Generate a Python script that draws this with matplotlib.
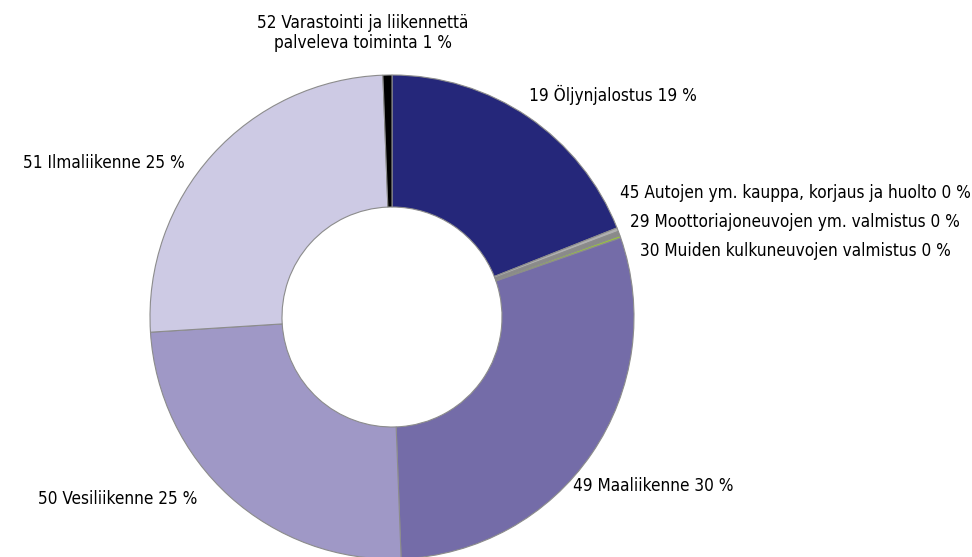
import matplotlib.pyplot as plt

labels = ["19 Öljynjalostus 19 %",
          "45 Autojen ym. kauppa, korjaus ja huolto 0 %",
          "29 Moottoriajoneuvojen ym. valmistus 0 %",
          "30 Muiden kulkuneuvojen valmistus 0 %",
          "49 Maaliikenne 30 %",
          "50 Vesiliikenne 25 %",
          "51 Ilmaliikenne 25 %",
          "52 Varastointi ja liikennettä\npalveleva toiminta 1 %"]
shares = [19.0, 0.25, 0.3, 0.15, 29.7, 24.6, 25.4, 0.6]
colors = ["#25277a", "#b0b0b0", "#8a8a8a", "#9acd32",
          "#746ca8", "#9f98c6", "#cdcae4", "#000000"]

# label anchor points in pixel space (x, y from top)
label_pos = [(613, 95), (795, 193), (795, 222), (795, 251),
             (653, 486), (118, 499), (104, 163), (363, 33)]

W, H = 972, 557
fig = plt.figure(figsize=(W / 100, H / 100), dpi=100)
ax = fig.add_axes([0, 0, 1, 1])

cx, cy, r = 392, 317, 242
ax.pie(shares, colors=colors, startangle=90, counterclock=False,
       center=(cx, H - cy), radius=r,
       wedgeprops=dict(width=132, edgecolor="#8c8c8c", linewidth=0.8))
ax.set_xlim(0, W)
ax.set_ylim(0, H)
ax.axis("off")

for lab, (x, y) in zip(labels, label_pos):
    ax.text(x, H - y, lab, ha="center", va="center", fontsize=12.3,
            family="DejaVu Sans", fontstretch="condensed",
            linespacing=1.15, color="black")

fig.savefig("out.png", dpi=100)
